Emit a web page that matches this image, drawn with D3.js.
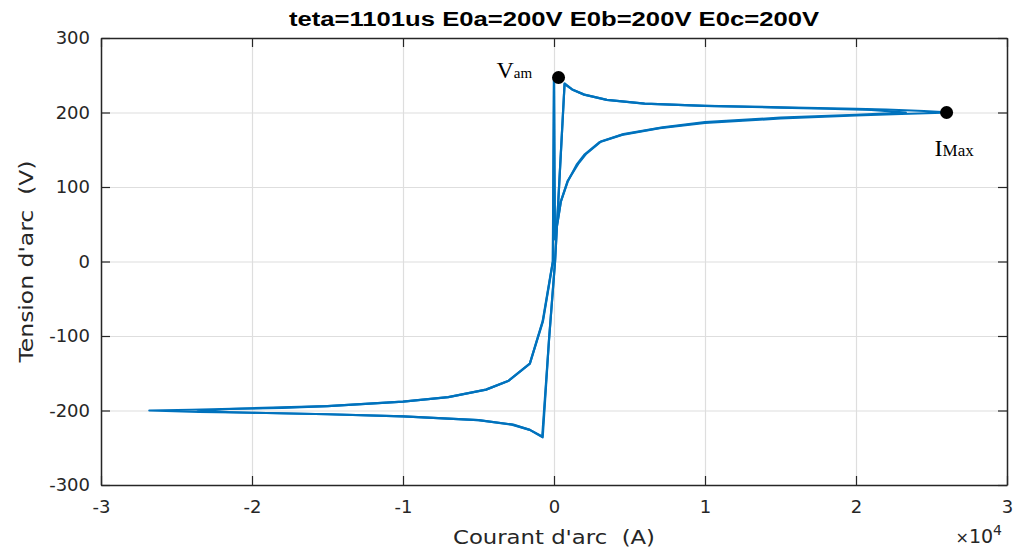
<!DOCTYPE html>
<html>
<head>
<meta charset="utf-8">
<script src="https://cdn.jsdelivr.net/npm/d3@7"></script>
<style>
  body { margin: 0; background: #fff; }
  text { font-family: "Liberation Sans", Arial, sans-serif; }
</style>
</head>
<body>
<div id="chart"></div>
<script>
// chart text
var title = "teta=1101us E0a=200V E0b=200V E0c=200V";
var xLabel = "Courant d'arc\u00a0\u00a0(A)";
var yLabel = "Tension d'arc\u00a0\u00a0(V)";
var xTicks = [-3, -2, -1, 0, 1, 2, 3];
var yTicks = [-300, -200, -100, 0, 100, 200, 300];

// current in 1e4 A, voltage in V
// first cycle (bigger tips)
var cycle1I = [0.00, 0.003, 0.006, 0.045, 0.09, 0.15, 0.20, 0.30, 0.45, 0.70, 1.00, 1.50, 2.00, 2.30, 2.63,
               2.45, 2.20, 2.00, 1.50, 1.00, 0.60, 0.35, 0.20, 0.12, 0.07,
               0.007, -0.033, -0.075,
               -0.16, -0.27, -0.50, -1.00, -1.50, -2.00, -2.35, -2.68,
               -2.40, -2.00, -1.50, -1.00, -0.70, -0.45, -0.30, -0.16, -0.073, -0.007, 0.00];
var cycle1V = [247, 120, 30, 80, 107, 130, 143, 160, 170, 179, 186, 192, 196, 198, 200,
               202, 204, 205, 207, 209, 212, 217, 224, 231, 239,
               0, -105, -236,
               -226, -219, -213, -208, -205, -203, -202, -200,
               -199, -197, -194, -188, -182, -172, -160, -137, -80, 0, 247];
// second cycle (smaller tips)
var cycle2I = [0.00, 0.003, 0.006, 0.046, 0.09, 0.16, 0.21, 0.31, 0.46, 0.72, 1.00, 1.50, 2.00, 2.33,
               2.10, 1.80, 1.50, 1.00, 0.60, 0.35, 0.20, 0.12, 0.07,
               0.007, -0.033, -0.078,
               -0.16, -0.28, -0.50, -1.00, -1.50, -2.00, -2.36,
               -2.15, -1.80, -1.50, -1.00, -0.70, -0.45, -0.30, -0.16, -0.075, -0.008, 0.00];
var cycle2V = [247, 120, 30, 81, 108, 131, 144, 161, 171, 180, 187, 193, 197, 200,
               203.5, 205, 206.5, 209, 212, 217, 224, 231, 238,
               0, -105, -235,
               -226, -219, -213, -208, -205, -203, -201,
               -198, -196.5, -194, -188, -182, -172, -160, -137, -80, 0, 246];

var vamPoint = [0.03, 247];
var imaxPoint = [2.6, 200];

var width = 1016, height = 550;
var margin = {left: 101, right: 9, top: 38, bottom: 65};
var plotW = width - margin.left - margin.right;
var plotH = height - margin.top - margin.bottom;

var svg = d3.select('#chart').append('svg')
            .attr('width', width).attr('height', height);

var x = d3.scaleLinear().domain([-3, 3]).range([margin.left, margin.left + plotW]);
var y = d3.scaleLinear().domain([-300, 300]).range([margin.top + plotH, margin.top]);

// grid lines
svg.append('g').attr('class', 'grid')
   .attr('transform', 'translate(0,' + (margin.top + plotH) + ')')
   .call(d3.axisBottom(x).tickValues(xTicks).tickSize(-plotH).tickFormat(''))
   .call(function (g) { g.select('.domain').remove(); });
svg.append('g').attr('class', 'grid')
   .attr('transform', 'translate(' + margin.left + ',0)')
   .call(d3.axisLeft(y).tickValues(yTicks).tickSize(-plotW).tickFormat(''))
   .call(function (g) { g.select('.domain').remove(); });
svg.selectAll('.grid line').attr('stroke', '#dedede').attr('stroke-width', 1.2);

// curves
var line = d3.line().x(function (d) { return x(d[0]); }).y(function (d) { return y(d[1]); });
var cycles = [d3.zip(cycle1I, cycle1V), d3.zip(cycle2I, cycle2V)];
svg.selectAll('path.curve').data(cycles).enter().append('path')
   .attr('class', 'curve')
   .attr('d', line)
   .attr('fill', 'none')
   .attr('stroke', '#0072bd')
   .attr('stroke-width', 2.2)
   .attr('stroke-linejoin', 'round');

// axes (ticks inward, MATLAB box)
var axisColor = '#262626';
var fmt = function (d) { return d3.format('d')(d).replace('\u2212', '-'); };
var bottomAx = svg.append('g')
   .attr('transform', 'translate(0,' + (margin.top + plotH) + ')')
   .call(d3.axisBottom(x).tickValues(xTicks).tickSizeInner(-9).tickSizeOuter(0).tickPadding(15).tickFormat(fmt));
var topAx = svg.append('g')
   .attr('transform', 'translate(0,' + margin.top + ')')
   .call(d3.axisTop(x).tickValues(xTicks).tickSizeInner(-9).tickSizeOuter(0).tickFormat(''));
var leftAx = svg.append('g')
   .attr('transform', 'translate(' + margin.left + ',0)')
   .call(d3.axisLeft(y).tickValues(yTicks).tickSizeInner(-9).tickSizeOuter(0).tickPadding(11).tickFormat(fmt));
var rightAx = svg.append('g')
   .attr('transform', 'translate(' + (margin.left + plotW) + ',0)')
   .call(d3.axisRight(y).tickValues(yTicks).tickSizeInner(-9).tickSizeOuter(0).tickFormat(''));
[bottomAx, topAx, leftAx, rightAx].forEach(function (g) {
    g.select('.domain').attr('stroke', axisColor).attr('stroke-width', 1.5);
    g.selectAll('.tick line').attr('stroke', axisColor).attr('stroke-width', 1.2);
    g.selectAll('.tick text').attr('fill', axisColor).style('font-size', '18px')
     .style('font-family', '"DejaVu Sans", sans-serif');
});
bottomAx.selectAll('.tick text').attr('dy', '0.71em');

// title and labels
svg.append('text').attr('x', 554).attr('y', 26)
   .attr('text-anchor', 'middle').style('font-size', '20px').style('font-weight', 'bold')
   .attr('textLength', 530).attr('lengthAdjust', 'spacingAndGlyphs')
   .attr('fill', '#000').text(title);
svg.append('text').attr('x', 554).attr('y', 544)
   .attr('text-anchor', 'middle').style('font-size', '20px').style('font-family', '"DejaVu Sans", sans-serif')
   .attr('textLength', 202).attr('lengthAdjust', 'spacingAndGlyphs')
   .attr('fill', axisColor).text(xLabel);
svg.append('text').attr('transform', 'translate(33,' + (margin.top + plotH / 2) + ') rotate(-90)')
   .attr('text-anchor', 'middle').style('font-size', '20px').style('font-family', '"DejaVu Sans", sans-serif')
   .attr('textLength', 202).attr('lengthAdjust', 'spacingAndGlyphs')
   .attr('fill', axisColor).text(yLabel);
var expo = svg.append('text').attr('x', 1002).attr('y', 543)
   .attr('text-anchor', 'end').style('font-size', '19px').style('font-family', '"DejaVu Sans", sans-serif')
   .attr('fill', axisColor);
expo.append('tspan').text('\u00d7').style('font-size', '16px');
expo.append('tspan').text('10');
expo.append('tspan').attr('dy', -8).style('font-size', '14px').text('4');

// marker points
svg.selectAll('circle.mark').data([vamPoint, imaxPoint]).enter().append('circle')
   .attr('class', 'mark')
   .attr('cx', function (d) { return x(d[0]); })
   .attr('cy', function (d) { return y(d[1]); })
   .attr('r', 6.5).attr('fill', '#000');

var serif = '"Liberation Serif", "Times New Roman", serif';
var vam = svg.append('text').attr('x', x(vamPoint[0]) - 62).attr('y', y(vamPoint[1]) + 1)
   .style('font-family', serif).style('font-size', '24px').attr('fill', '#000');
vam.append('tspan').text('V');
vam.append('tspan').style('font-size', '15px').text('am');
var imax = svg.append('text').attr('x', x(imaxPoint[0]) - 12).attr('y', y(imaxPoint[1]) + 43)
   .style('font-family', serif).style('font-size', '24px').attr('fill', '#000');
imax.append('tspan').text('I');
imax.append('tspan').style('font-size', '17px').text('Max');
</script>
</body>
</html>
